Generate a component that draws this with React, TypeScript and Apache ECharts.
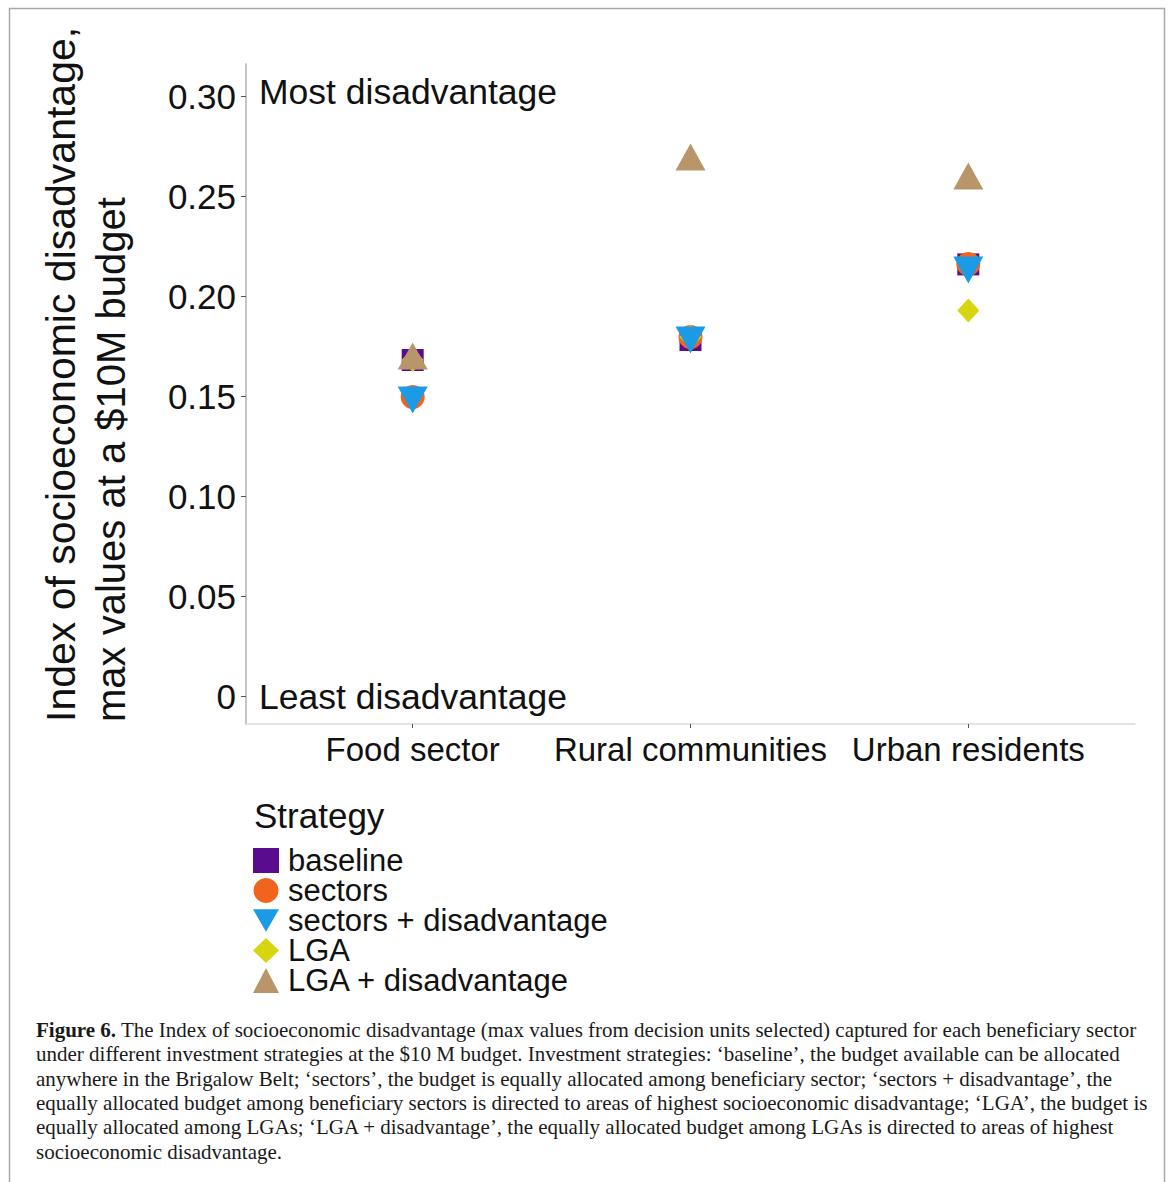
import React, { useEffect, useRef } from 'react';
import * as echarts from 'echarts';

const categories = ['Food sector', 'Rural communities', 'Urban residents'];
const categoryPositions = [1, 2, 3];
const yTicks = [0, 0.05, 0.1, 0.15, 0.2, 0.25, 0.3];

const baseline = [0.168, 0.178, 0.2158];
const sectors = [0.1495, 0.1795, 0.216];
const sectorsDisadvantage = [0.148, 0.178, 0.213];
const lga = [0.168, 0.1795, 0.1928];
const lgaDisadvantage = [0.17, 0.2695, 0.26];

const strategyNames = ['baseline', 'sectors', 'sectors + disadvantage', 'LGA', 'LGA + disadvantage'];
const strategyColors = ['#5a0c8f', '#f0641e', '#1b9be6', '#d6d510', '#b8966a'];
// drawing order (stacking) of the strategies
const drawOrder = [0, 1, 3, 2, 4];

const yTitleLines = ['Index of socioeconomic disadvantage,', 'max values at a $10M budget'];
const topNote = 'Most disadvantage';
const bottomNote = 'Least disadvantage';
const legendTitle = 'Strategy';
const captionLead = 'Figure 6.';
const captionLines = [
  ' The Index of socioeconomic disadvantage (max values from decision units selected) captured for each beneficiary sector',
  'under different investment strategies at the $10 M budget. Investment strategies: \u2018baseline\u2019, the budget available can be allocated',
  'anywhere in the Brigalow Belt; \u2018sectors\u2019, the budget is equally allocated among beneficiary sector; \u2018sectors + disadvantage\u2019, the',
  'equally allocated budget among beneficiary sectors is directed to areas of highest socioeconomic disadvantage; \u2018LGA\u2019, the budget is',
  'equally allocated among LGAs; \u2018LGA + disadvantage\u2019, the equally allocated budget among LGAs is directed to areas of highest',
  'socioeconomic disadvantage.',
];

const SANS = '"Liberation Sans", Arial, Helvetica, sans-serif';
const SERIF = '"Liberation Serif", "DejaVu Serif", serif';

export default function App() {
  const ref = useRef<HTMLDivElement>(null);

  useEffect(() => {
    if (!ref.current) return;
    const chart = echarts.init(ref.current, undefined, { renderer: 'svg' });

    const valueSets = [baseline, sectors, sectorsDisadvantage, lga, lgaDisadvantage];
    const symbols: any[] = ['rect', 'circle', 'path://M0,0L10,0L5,8.66Z', 'diamond', 'triangle'];
    const sizes: any[] = [22, 24, [30, 27], [22, 24], [30, 27]];

    const series = valueSets.map((vals, s) => ({
      type: 'scatter',
      name: strategyNames[s],
      data: vals.map((v, i) => [categoryPositions[i], v]),
      symbol: symbols[s],
      symbolSize: sizes[s],
      itemStyle: { color: strategyColors[s], opacity: 1 },
      z: 2 + drawOrder.indexOf(s),
    }));

    const captionText = '{b|' + captionLead + '}' + captionLines.join('\n');

    chart.setOption({
      animation: false,
      backgroundColor: '#ffffff',
      grid: { left: 246, right: 36, top: 64, bottom: 458, containLabel: false },
      xAxis: {
        type: 'value',
        min: 0.4,
        max: 3.6,
        axisLine: { show: true, onZero: false, lineStyle: { color: '#d9d9d9', width: 1.5 } },
        axisTick: { show: true, customValues: categoryPositions, length: 4, lineStyle: { color: '#555' } },
        axisLabel: {
          customValues: categoryPositions,
          formatter: (v: number) => categories[Math.round(v) - 1] ?? '',
          fontFamily: SANS,
          fontSize: 33,
          color: '#111',
          margin: 9,
        },
        splitLine: { show: false },
      },
      yAxis: {
        type: 'value',
        min: -0.014,
        max: 0.316,
        axisLine: { show: true, onZero: false, lineStyle: { color: '#b0b0b0', width: 1.5 } },
        axisTick: { show: true, customValues: yTicks, length: 5, lineStyle: { color: '#555' } },
        axisLabel: {
          customValues: yTicks,
          formatter: (v: number) => (Math.abs(v) < 1e-9 ? '0' : v.toFixed(2)),
          fontFamily: SANS,
          fontSize: 35,
          color: '#111',
          margin: 10,
        },
        splitLine: { show: false },
      },
      legend: {
        data: strategyNames,
        orient: 'vertical',
        left: 248,
        top: 840,
        padding: 5,
        itemWidth: 26,
        itemHeight: 25,
        itemGap: -1,
        textStyle: { fontFamily: SANS, fontSize: 31, color: '#111', lineHeight: 28, padding: [0, 0, 0, 4] },
        selectedMode: false,
      },
      series,
      graphic: [
        {
          type: 'rect',
          shape: { x: 9.5, y: 8.5, width: 1155, height: 1200 },
          style: { fill: 'none', stroke: '#a8a8a8', lineWidth: 1.5 },
          silent: true,
        },
        {
          type: 'text',
          x: 61,
          y: 722,
          rotation: Math.PI / 2,
          style: { text: yTitleLines[0], fontFamily: SANS, fontSize: 41, fill: '#111', align: 'left', verticalAlign: 'middle' },
        },
        {
          type: 'text',
          x: 111,
          y: 722,
          rotation: Math.PI / 2,
          style: { text: yTitleLines[1], fontFamily: SANS, fontSize: 40, fill: '#111', align: 'left', verticalAlign: 'middle' },
        },
        {
          type: 'text',
          x: 259,
          y: 92,
          style: { text: topNote, fontFamily: SANS, fontSize: 35.5, fill: '#111', align: 'left', verticalAlign: 'middle' },
        },
        {
          type: 'text',
          x: 259,
          y: 697,
          style: { text: bottomNote, fontFamily: SANS, fontSize: 35.5, fill: '#111', align: 'left', verticalAlign: 'middle' },
        },
        {
          type: 'text',
          x: 254,
          y: 815,
          style: { text: legendTitle, fontFamily: SANS, fontSize: 35, fill: '#111', align: 'left', verticalAlign: 'middle' },
        },
        {
          type: 'text',
          x: 36,
          y: 1018,
          style: {
            text: captionText,
            fontFamily: SERIF,
            fontSize: 21,
            lineHeight: 24.3,
            fill: '#1a1a1a',
            align: 'left',
            verticalAlign: 'top',
            rich: {
              b: { fontFamily: SERIF, fontSize: 21, fontWeight: 'bold', lineHeight: 24.3, fill: '#1a1a1a' },
            },
          },
        },
      ],
    });

    return () => chart.dispose();
  }, []);

  return (
    <div
      ref={ref}
      style={{ position: 'absolute', left: 0, top: 0, width: 1171, height: 1182, background: '#fff' }}
    />
  );
}
